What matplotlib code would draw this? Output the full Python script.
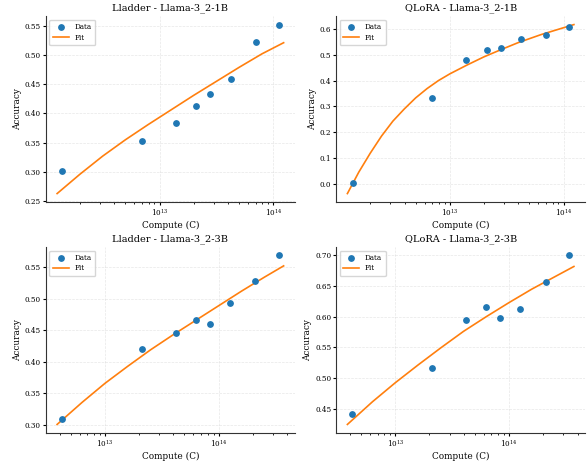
import numpy as np
import matplotlib
matplotlib.use("Agg")
import matplotlib.pyplot as plt

plt.rcParams['font.family'] = ['DejaVu Serif']

# compute budgets (C) for each model
compute_1b = [1.4e12, 7e12, 1.4e13, 2.1e13, 2.8e13, 4.2e13, 7e13, 1.12e14]
compute_3b = [4.2e12, 2.1e13, 4.2e13, 6.3e13, 8.4e13, 1.26e14, 2.1e14, 3.36e14]

# measured accuracy
lladder_1b = [0.301, 0.353, 0.383, 0.412, 0.434, 0.459, 0.522, 0.552]
qlora_1b = [0.003, 0.334, 0.478, 0.518, 0.528, 0.563, 0.576, 0.606]
lladder_3b = [0.3095, 0.420, 0.445, 0.466, 0.4605, 0.493, 0.528, 0.5685]
qlora_3b = [0.441, 0.5166, 0.594, 0.6154, 0.598, 0.612, 0.657, 0.700]

# fitted curves (x given as log10 of compute)
fit_logc_lladder_1b = [12.10, 12.30, 12.50, 12.70, 12.90, 13.10, 13.30, 13.50, 13.70, 13.90, 14.09]
fit_lladder_1b = [0.263, 0.296, 0.327, 0.355, 0.381, 0.406, 0.431, 0.455, 0.479, 0.502, 0.521]

fit_logc_qlora_1b = [12.10, 12.20, 12.30, 12.40, 12.50, 12.60, 12.70, 12.80, 12.90, 13.00,
                     13.15, 13.30, 13.45, 13.60, 13.80, 14.00, 14.09]
fit_qlora_1b = [-0.038, 0.045, 0.118, 0.185, 0.243, 0.290, 0.333, 0.369, 0.400, 0.426,
                0.460, 0.492, 0.520, 0.547, 0.578, 0.605, 0.617]

fit_logc_lladder_3b = [12.58, 12.80, 13.00, 13.20, 13.40, 13.60, 13.80, 14.00, 14.20, 14.40, 14.57]
fit_lladder_3b = [0.301, 0.336, 0.366, 0.393, 0.419, 0.443, 0.466, 0.489, 0.512, 0.534, 0.552]

fit_logc_qlora_3b = [12.58, 12.80, 13.00, 13.20, 13.40, 13.60, 13.80, 14.00, 14.20, 14.40, 14.57]
fit_qlora_3b = [0.424, 0.461, 0.492, 0.521, 0.549, 0.576, 0.600, 0.623, 0.645, 0.665, 0.682]

panels = [
    ("Lladder - Llama-3_2-1B", compute_1b, lladder_1b, fit_logc_lladder_1b, fit_lladder_1b),
    ("QLoRA - Llama-3_2-1B", compute_1b, qlora_1b, fit_logc_qlora_1b, fit_qlora_1b),
    ("Lladder - Llama-3_2-3B", compute_3b, lladder_3b, fit_logc_lladder_3b, fit_lladder_3b),
    ("QLoRA - Llama-3_2-3B", compute_3b, qlora_3b, fit_logc_qlora_3b, fit_qlora_3b),
]

fig, axes = plt.subplots(2, 2, figsize=(5.87, 4.61), dpi=100)
fig.subplots_adjust(left=0.078, right=0.997, top=0.965, bottom=0.061, wspace=0.165, hspace=0.242)

for ax, (title, cx, acc, flog, fy) in zip(axes.flat, panels):
    ax.scatter(cx, acc, s=15, color='#1f77b4', label='Data', zorder=3)
    ax.plot(10 ** np.array(flog), fy, color='#ff7f0e', lw=1.2, label='Fit', zorder=2)
    ax.set_xscale('log')
    ax.set_title(title, fontsize=7.0, pad=4)
    ax.set_xlabel('Compute (C)', fontsize=6.4, labelpad=2)
    ax.set_ylabel('Accuracy', fontsize=6.4, labelpad=2)
    ax.tick_params(labelsize=5.2, length=2, pad=1.5)
    ax.tick_params(which='minor', length=1.2)
    ax.grid(True, linestyle='--', alpha=0.3, linewidth=0.5)
    ax.spines['top'].set_visible(False)
    ax.spines['right'].set_visible(False)
    for s in ['left', 'bottom']:
        ax.spines[s].set_linewidth(0.8)
        ax.spines[s].set_color('#333333')
    ax.legend(loc='upper left', fontsize=5.2, handlelength=2.2, borderpad=0.5, labelspacing=0.3)

plt.savefig('out.png', dpi=100)
